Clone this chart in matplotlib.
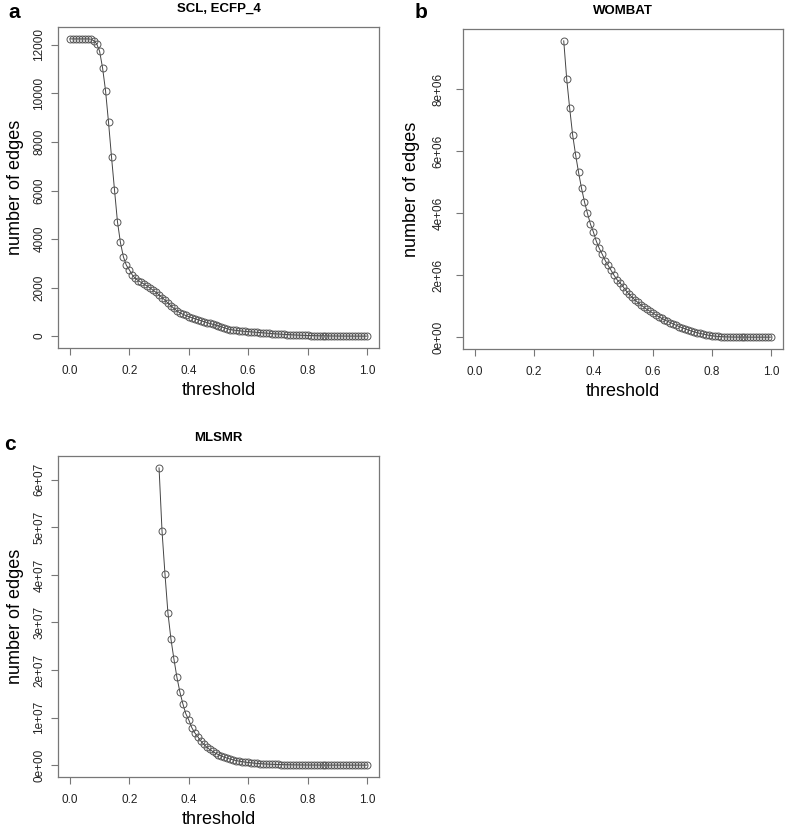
import matplotlib
matplotlib.use("Agg")
import matplotlib.pyplot as plt
import numpy as np

plt.rcParams["font.family"] = ["Liberation Sans", "DejaVu Sans"]

# threshold grid used in all three panels (step 0.01)
thr_all = np.round(np.arange(0, 101) / 100, 2)
thr_high = np.round(np.arange(30, 101) / 100, 2)

# panel a: SCL, ECFP_4 (0.00 .. 1.00)
edges_scl = [
    12250, 12250, 12250, 12250, 12250, 12250, 12250, 12240, 12180, 12050,
    11740, 11050, 10110, 8810, 7390, 6040, 4720, 3860, 3270, 2920,
    2730, 2520, 2380, 2290, 2210, 2140, 2060, 1980, 1890, 1800,
    1700, 1590, 1480, 1360, 1250, 1140, 1040, 960, 900, 850,
    800, 760, 720, 680, 640, 600, 560, 525, 490, 455,
    420, 380, 340, 300, 270, 250, 235, 220, 205, 195,
    185, 175, 165, 155, 145, 135, 125, 115, 105, 95,
    88, 80, 72, 65, 58, 52, 46, 40, 35, 30,
    26, 22, 19, 16, 13, 11, 9, 7, 6, 5,
    4, 3, 2, 2, 1, 1, 0, 0, 0, 0, 0,
]

# panel b: WOMBAT (0.30 .. 1.00)
edges_wombat = [
    9.55e6, 8.32e6, 7.38e6, 6.52e6, 5.88e6, 5.31e6, 4.80e6, 4.36e6, 3.99e6, 3.65e6,
    3.39e6, 3.09e6, 2.86e6, 2.67e6, 2.47e6, 2.31e6, 2.15e6, 1.99e6, 1.85e6, 1.75e6,
    1.63e6, 1.50e6, 1.39e6, 1.29e6, 1.20e6, 1.12e6, 1.04e6, 0.97e6, 0.90e6, 0.84e6,
    0.78e6, 0.72e6, 0.66e6, 0.61e6, 0.56e6, 0.51e6, 0.47e6, 0.42e6, 0.38e6, 0.34e6,
    0.30e6, 0.27e6, 0.23e6, 0.20e6, 0.17e6, 0.145e6, 0.12e6, 0.10e6, 0.08e6, 0.06e6,
    0.045e6, 0.033e6, 0.024e6, 0.017e6, 0.012e6, 0.008e6, 0.006e6, 0.004e6, 0.003e6, 0.002e6,
    0.0015e6, 0.001e6, 0.0008e6, 0.0005e6, 0.0003e6, 0.0002e6, 0.0001e6, 0.0001e6, 0, 0,
    0,
]

# panel c: MLSMR (0.30 .. 1.00)
edges_mlsmr = [
    6.25e7, 4.92e7, 4.01e7, 3.19e7, 2.65e7, 2.23e7, 1.85e7, 1.54e7, 1.29e7, 1.08e7,
    0.95e7, 0.79e7, 0.68e7, 0.60e7, 0.51e7, 0.44e7, 0.38e7, 0.33e7, 0.29e7, 0.25e7,
    0.22e7, 0.19e7, 0.165e7, 0.145e7, 0.125e7, 0.11e7, 0.095e7, 0.083e7, 0.072e7, 0.063e7,
    0.055e7, 0.048e7, 0.042e7, 0.036e7, 0.031e7, 0.027e7, 0.023e7, 0.020e7, 0.017e7, 0.015e7,
    0.013e7, 0.011e7, 0.009e7, 0.008e7, 0.007e7, 0.006e7, 0.005e7, 0.004e7, 0.0035e7, 0.003e7,
    0.0025e7, 0.002e7, 0.0016e7, 0.0013e7, 0.001e7, 0.0008e7, 0.0006e7, 0.0005e7, 0.0004e7, 0.0003e7,
    0.0002e7, 0.0002e7, 0.0001e7, 0.0001e7, 0.0001e7, 0, 0, 0, 0, 0,
    0,
]

x_ticks = [0.0, 0.2, 0.4, 0.6, 0.8, 1.0]
x_tick_labels = ["0.0", "0.2", "0.4", "0.6", "0.8", "1.0"]
scl_ticks = [0, 2000, 4000, 6000, 8000, 10000, 12000]
scl_labels = ["0", "2000", "4000", "6000", "8000", "10000", "12000"]
wombat_ticks = [0, 2e6, 4e6, 6e6, 8e6]
wombat_labels = ["0e+00", "2e+06", "4e+06", "6e+06", "8e+06"]
mlsmr_ticks = [0, 1e7, 2e7, 3e7, 4e7, 5e7, 6e7]
mlsmr_labels = ["0e+00", "1e+07", "2e+07", "3e+07", "4e+07", "5e+07", "6e+07"]

W, H = 785, 831
fig = plt.figure(figsize=(W / 100, H / 100), dpi=100)


def box(left, top, right, bottom):
    return [left / W, 1 - bottom / H, (right - left) / W, (bottom - top) / H]


def r_style_panel(ax, x, y, title, yticks, ylabels, ypad=4, ylabelpad=7):
    ax.plot(x, y, color="#444444", lw=0.7, marker="o", markersize=5,
            markerfacecolor="none", markeredgecolor="#555555", markeredgewidth=0.7)
    span = max(y) - min(y)
    ax.set_ylim(min(y) - 0.04 * span, max(y) + 0.04 * span)
    ax.set_xlim(-0.04, 1.04)
    ax.set_xticks(x_ticks)
    ax.set_xticklabels(x_tick_labels)
    ax.set_yticks(yticks)
    ax.set_yticklabels(ylabels, rotation=90, va="center")
    for sp in ax.spines.values():
        sp.set_color("#777777")
        sp.set_linewidth(0.9)
    ax.tick_params(direction="out", length=5, width=0.8, color="#777777",
                   labelsize=8.5, labelcolor="#222222")
    ax.tick_params(axis="x", pad=7.5)
    ax.tick_params(axis="y", pad=ypad)
    ax.set_xlabel("threshold", fontsize=13, labelpad=3)
    ax.set_ylabel("number of edges", fontsize=13, labelpad=ylabelpad)
    ax.set_title(title, fontsize=9.5, fontweight="bold", pad=11)


ax_a = fig.add_axes(box(58, 27, 379, 348))
r_style_panel(ax_a, thr_all, edges_scl, "SCL, ECFP_4", scl_ticks, scl_labels)

ax_b = fig.add_axes(box(463, 29, 783, 349))
r_style_panel(ax_b, thr_high, edges_wombat, "WOMBAT", wombat_ticks, wombat_labels,
              ypad=8.5, ylabelpad=9)

ax_c = fig.add_axes(box(58, 456, 379, 777))
r_style_panel(ax_c, thr_high, edges_mlsmr, "MLSMR", mlsmr_ticks, mlsmr_labels)

for letter, px, py in [("a", 14, 12), ("b", 421, 12), ("c", 10, 445)]:
    fig.text(px / W, 1 - py / H, letter, fontsize=15, fontweight="bold",
             ha="center", va="center")

fig.savefig("out.png", dpi=100)
plt.close(fig)
